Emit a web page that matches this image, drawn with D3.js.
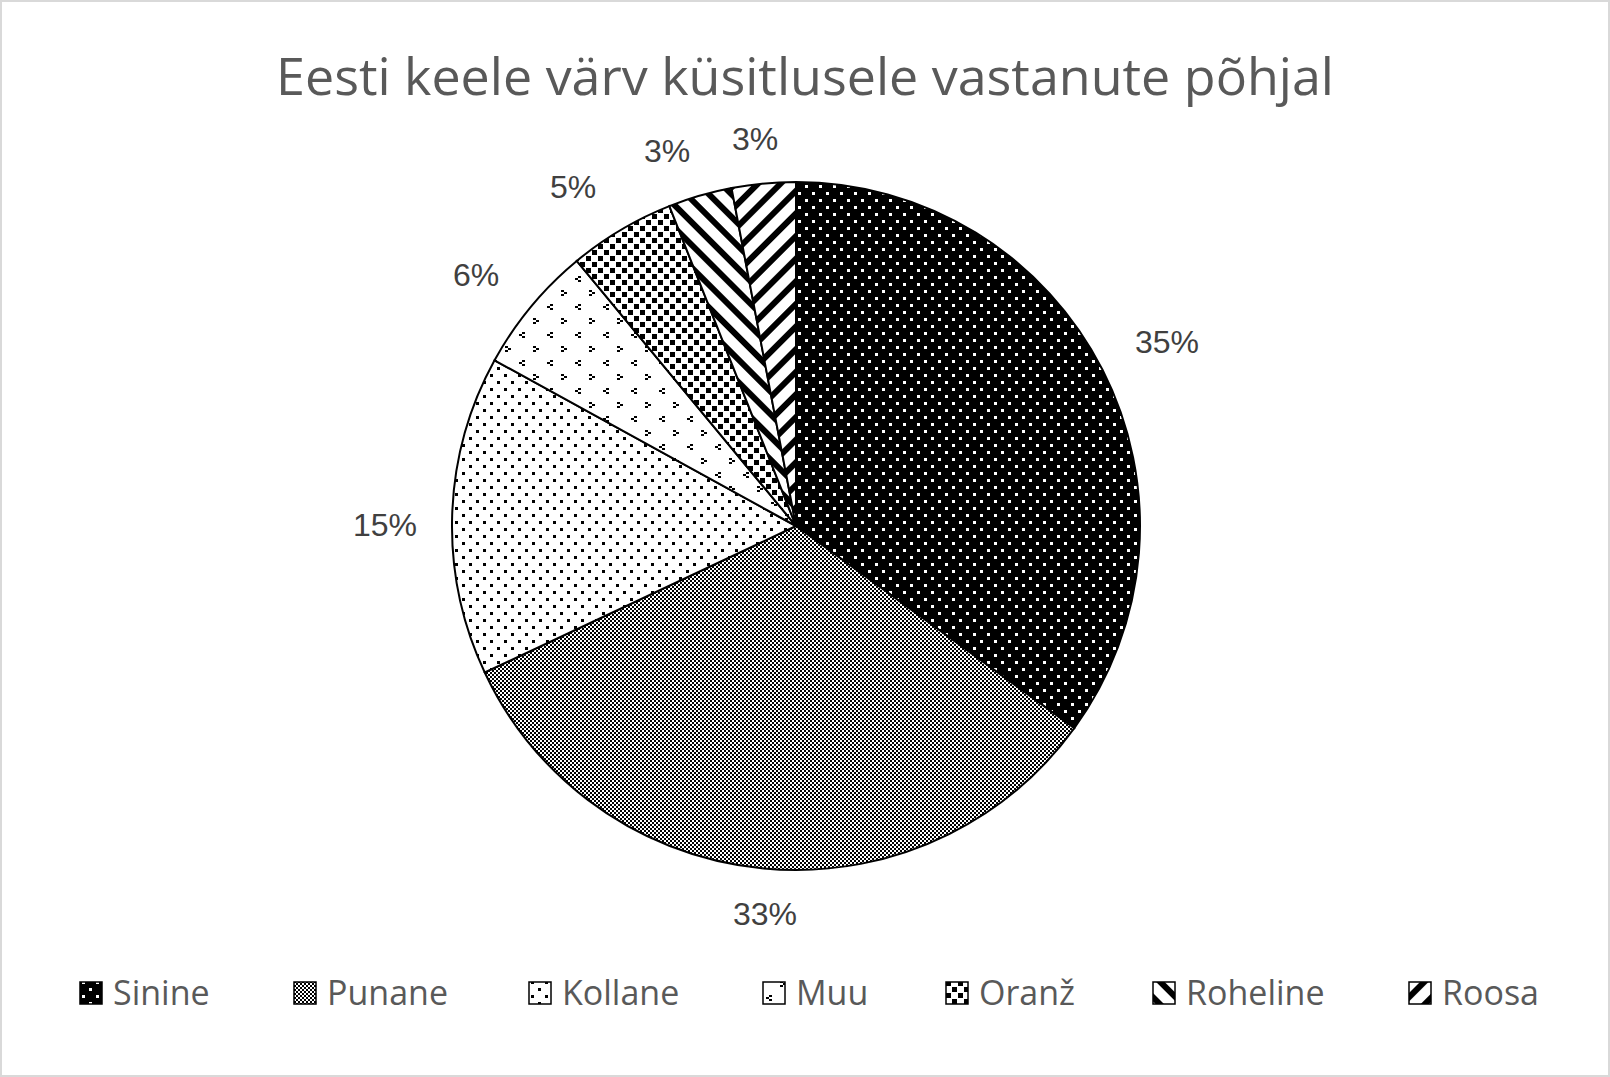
<!DOCTYPE html>
<html><head><meta charset="utf-8">
<script src="https://cdn.jsdelivr.net/npm/d3@7"></script>
<style>body{margin:0;background:#fff}</style></head>
<body><svg id="c" width="1610" height="1077"></svg>
<script>
const categories = ["Sinine","Punane","Kollane","Muu","Oranž","Roheline","Roosa"];
const values = [35,33,15,6,5,3,3];
const labelPos = [[1167,342],[765,914],[385,525],[476,275],[573,187],[667,151],[755,139]];
const legendX = [80,294,529,763,946,1153,1409];

const svg = d3.select("#c");
const defs = svg.append("defs");
function pat(id,w,h,draw){const p=defs.append("pattern").attr("id",id).attr("patternUnits","userSpaceOnUse").attr("width",w).attr("height",h);draw(p);}
pat("p0",14,14,p=>{p.append("rect").attr("width",14).attr("height",14).attr("fill","#000");
  p.append("rect").attr("x",2).attr("y",2).attr("width",3).attr("height",3).attr("fill","#fff");
  p.append("rect").attr("x",9).attr("y",9).attr("width",3).attr("height",3).attr("fill","#fff");});
pat("p1",4,4,p=>{p.append("rect").attr("width",4).attr("height",4).attr("fill","#fff");
  p.append("rect").attr("width",2).attr("height",2).attr("fill","#000");
  p.append("rect").attr("x",2).attr("y",2).attr("width",2).attr("height",2).attr("fill","#000");});
pat("p2",14,14,p=>{p.append("rect").attr("width",14).attr("height",14).attr("fill","#fff");
  p.append("rect").attr("x",2).attr("y",2).attr("width",3).attr("height",3).attr("fill","#000");
  p.append("rect").attr("x",9).attr("y",9).attr("width",3).attr("height",3).attr("fill","#000");});
pat("p3",28,28,p=>{p.append("rect").attr("width",28).attr("height",28).attr("fill","#fff");
  p.append("path").attr("d","M6,2h3v2h-3zM3,4h3v2h-3zM6,6h3v2h-3z").attr("fill","#000");
  p.append("path").attr("d","M17,16h3v2h-3zM20,18h3v2h-3zM17,20h3v2h-3z").attr("fill","#000");});
pat("p4",12,12,p=>{p.append("rect").attr("width",12).attr("height",12).attr("fill","#fff");
  p.append("rect").attr("x",0).attr("y",0).attr("width",5).attr("height",5).attr("fill","#000");
  p.append("rect").attr("x",6).attr("y",6).attr("width",5).attr("height",5).attr("fill","#000");});
pat("p5",16,16,p=>{p.append("rect").attr("width",16).attr("height",16).attr("fill","#fff");
  p.attr("patternTransform","rotate(45)");
  p.append("rect").attr("x",0).attr("y",0).attr("width",16).attr("height",6).attr("fill","#000");});
pat("p6",16,16,p=>{p.append("rect").attr("width",16).attr("height",16).attr("fill","#fff");
  p.attr("patternTransform","rotate(-45)");
  p.append("rect").attr("x",0).attr("y",0).attr("width",16).attr("height",6).attr("fill","#000");});

svg.append("rect").attr("x",1).attr("y",1).attr("width",1608).attr("height",1075).attr("fill","#fff").attr("stroke","#d9d9d9").attr("stroke-width",2);
svg.append("text").attr("x",805).attr("y",95).attr("text-anchor","middle").attr("font-family","Open Sans, sans-serif").attr("font-size",52).attr("fill","#595959").text("Eesti keele värv küsitlusele vastanute põhjal");

const cx=796, cy=526, r=344;
const pie=d3.pie().sort(null)(values);
const arc=d3.arc().innerRadius(0).outerRadius(r);
const g=svg.append("g").attr("transform",`translate(${cx},${cy})`);
g.selectAll("path").data(pie).join("path").attr("d",arc).attr("fill",(d,i)=>`url(#p${i})`).attr("stroke","#000").attr("stroke-width",2);

svg.selectAll("text.lab").data(values).join("text").attr("class","lab")
 .attr("x",(d,i)=>labelPos[i][0]).attr("y",(d,i)=>labelPos[i][1]+11).attr("text-anchor","middle")
 .attr("font-family","Liberation Sans, Arial, sans-serif").attr("font-size",32).attr("fill","#404040").text(d=>d+"%");

const lg=svg.selectAll("g.lg").data(categories).join("g").attr("class","lg").attr("transform",(d,i)=>`translate(${legendX[i]},993)`);
lg.append("rect").attr("x",0).attr("y",-11).attr("width",22).attr("height",22).attr("fill",(d,i)=>`url(#p${i})`).attr("stroke","#000").attr("stroke-width",1.5);
lg.append("text").attr("x",33).attr("y",12).attr("font-family","Open Sans, sans-serif").attr("font-size",34).attr("fill","#595959").text(d=>d);
</script></body></html>
